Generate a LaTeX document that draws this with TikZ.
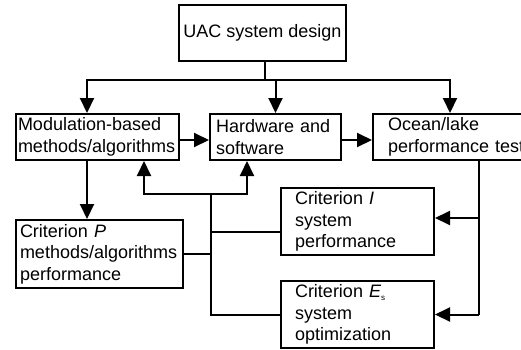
\documentclass[tikz,border=0pt]{standalone}
\usepackage{fontspec}
\setmainfont{Liberation Sans}
\usetikzlibrary{arrows.meta}
\begin{document}
\begin{tikzpicture}[x=1pt,y=-1pt,
  every node/.style={font=\fontsize{18}{21.6}\selectfont},
  box/.style={draw, line width=2pt, anchor=north west, align=left, inner ysep=2pt},
  ln/.style={line width=2pt},
  arr/.style={line width=2pt, -{Triangle[length=15pt,width=14pt]}}]
\useasboundingbox (0,0) rectangle (521,349);
\clip (0,0) rectangle (521,349);
\node[draw, line width=2pt, anchor=north west, align=center, inner sep=0pt,
      minimum width=167pt, minimum height=56pt] (uac) at (178,4) {UAC system design};
\node[box, inner xsep=2pt, text width=159pt, minimum height=46pt] (mod) at (15,113)
  {Modulation-based\\methods/algorithms};
\node[box, inner xsep=6pt, text width=119pt, minimum height=46pt] (hw) at (209,113)
  {\mbox{Hardware and}\\software};
\node[box, inner xsep=15pt, text width=150pt, minimum height=46pt] (oc) at (372,113)
  {Ocean/lake\\performance test};
\node[box, inner xsep=4pt, text width=159pt, minimum height=68pt] (P) at (15,219)
  {Criterion \textit{P}\\methods/algorithms\\performance};
\node[box, inner xsep=14pt, text width=125pt, minimum height=67pt] (I) at (280,187)
  {Criterion \textit{I}\\system\\performance};
\node[box, inner xsep=14pt, text width=125pt, minimum height=67pt] (Es) at (280,280)
  {Criterion \textit{E}\raisebox{-0.35ex}{\fontsize{8}{8}\selectfont s}\\system\\optimization};
% top distribution
\coordinate (lvl) at (0,80);
\coordinate (us) at ([xshift=87pt]uac.south west);
\coordinate (j) at (us |- lvl);
\draw[ln] (us) -- (j);
\draw[arr] (j) -| ([xshift=72pt]mod.north west);
\draw[arr] (j) -| (hw.north);
\draw[arr] (j) -| ([xshift=78pt]oc.north west);
% chain
\draw[arr] ([yshift=-27pt]mod.north east) -- ([yshift=-27pt]hw.north west);
\draw[arr] ([yshift=-27pt]hw.north east) -- ([yshift=-27pt]oc.north west);
\draw[arr] ([xshift=72pt]mod.south west) -- ([xshift=72pt]P.north west);
% feedback
\coordinate (fb) at (211,194);
\draw[arr] (fb) -| ([xshift=129pt]mod.south west);
\draw[arr] (fb) -| ([xshift=38pt]hw.south west);
\coordinate (fbb) at (fb |- Es.west);
\draw[ln] (fb) -- (fbb) -- (Es.west);
\draw[ln] (P.east) -- (P.east -| fb);
\coordinate (ia) at ([yshift=-45pt]I.north west);
\draw[ln] (ia) -- (ia -| fb);
% right side
\coordinate (r1) at ([xshift=107pt]oc.south west);
\coordinate (r2) at (r1 |- Es.east);
\draw[ln] (r1) -- (r2);
\draw[arr] (r2) -- (Es.east);
\coordinate (ib) at ([yshift=-31pt]I.north east);
\draw[arr] (ib -| r1) -- (ib);
\end{tikzpicture}
\end{document}
